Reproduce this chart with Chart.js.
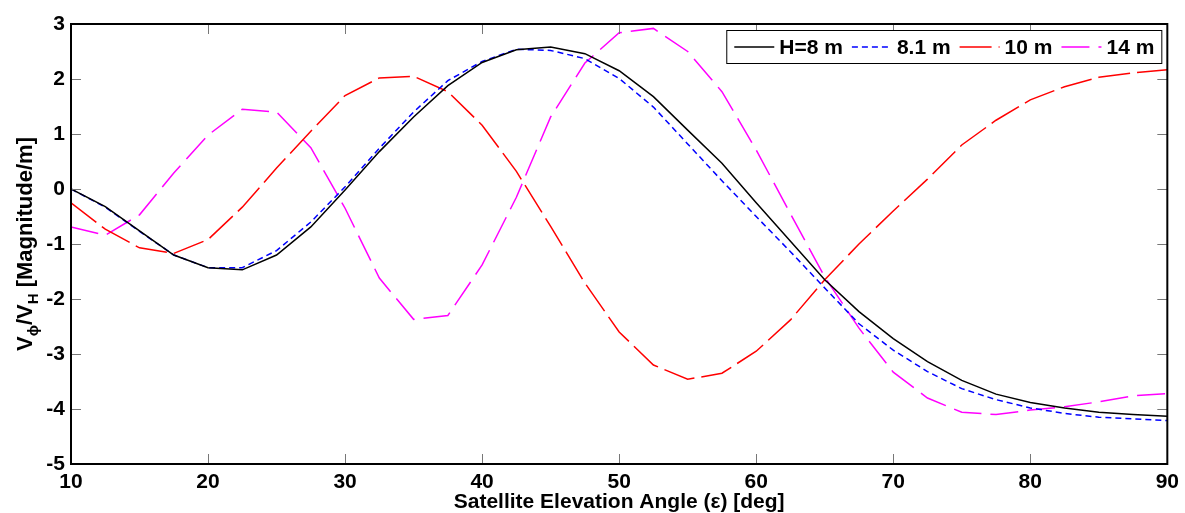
<!doctype html>
<html>

<head>
  <title>Vphi/VH vs satellite elevation angle</title>
  <script src="https://cdn.jsdelivr.net/npm/chart.js@4.4.0/dist/chart.umd.min.js"></script>
  <style>
    html, body {
      margin: 0;
      padding: 0;
      background: #fff;
    }
    .chart {
      width: 1185px;
      height: 513px;
    }
  </style>
</head>

<body>
  <div class="chart">
    <canvas id="myChart"></canvas>
  </div>

  <script>
    var FONT = "'Liberation Sans', Arial, sans-serif";

    // elevation angle (deg)
    var angles = [10, 12.5, 15, 17.5, 20, 22.5, 25, 27.5, 30, 32.5, 35, 37.5, 40, 42.5, 45, 47.5,
      50, 52.5, 55, 57.5, 60, 62.5, 65, 67.5, 70, 72.5, 75, 77.5, 80, 82.5, 85, 87.5, 90];

    var h8 = [0, -0.32, -0.76, -1.2, -1.43, -1.47, -1.2, -0.69, -0.02, 0.68, 1.31, 1.88, 2.3, 2.53, 2.58, 2.46,
      2.15, 1.68, 1.07, 0.47, -0.25, -0.95, -1.65, -2.23, -2.72, -3.14, -3.48, -3.73, -3.88, -3.98, -4.06, -4.1, -4.13];
    var h81 = [0, -0.33, -0.77, -1.2, -1.43, -1.43, -1.12, -0.6, 0.04, 0.74, 1.4, 1.97, 2.32, 2.54, 2.52, 2.37,
      2.01, 1.49, 0.82, 0.15, -0.5, -1.14, -1.8, -2.45, -2.93, -3.32, -3.63, -3.83, -3.98, -4.08, -4.15, -4.18, -4.21];
    var h10 = [-0.25, -0.73, -1.07, -1.17, -0.92, -0.33, 0.38, 1.05, 1.7, 2.02, 2.05, 1.77, 1.16, 0.32, -0.68, -1.71,
      -2.6, -3.2, -3.46, -3.35, -2.95, -2.38, -1.65, -1.0, -0.4, 0.18, 0.8, 1.25, 1.62, 1.86, 2.03, 2.11, 2.17];
    var h14 = [-0.69, -0.84, -0.47, 0.29, 0.98, 1.45, 1.4, 0.75, -0.35, -1.62, -2.37, -2.3, -1.38, -0.15, 1.31, 2.29,
      2.84, 2.92, 2.5, 1.77, 0.71, -0.45, -1.6, -2.53, -3.33, -3.8, -4.06, -4.1, -4.02, -3.96, -3.87, -3.76, -3.72];

    var seriesLabels = ['H=8 m', '8.1 m', '10 m', '14 m'];
    var seriesColors = ['#000000', '#0000ff', '#ff0000', '#ff00ff'];
    var seriesDash = [[], [6, 4], [32, 7], [28, 9]];

    var xLabel = 'Satellite Elevation Angle (\u03b5) [deg]';
    var yLabelParts = [
      {text: 'V', sub: false},
      {text: '\u03d5', sub: true},
      {text: '/V', sub: false},
      {text: 'H', sub: true},
      {text: ' [Magnitude/m]', sub: false}
    ];

    function pairs(ys) {
      return angles.map(function(a, i) { return {x: a, y: ys[i]}; });
    }

    // matlab style box with inward ticks on all four sides
    var boxPlugin = {
      id: 'box',
      afterDraw: function(chart) {
        var ctx = chart.ctx;
        var a = chart.chartArea;
        var xs = chart.scales.x;
        var ys = chart.scales.y;
        ctx.save();
        ctx.strokeStyle = '#777';
        ctx.lineWidth = 1;
        ctx.beginPath();
        xs.ticks.forEach(function(t) {
          var px = Math.round(xs.getPixelForValue(t.value)) + 0.5;
          ctx.moveTo(px, a.bottom);
          ctx.lineTo(px, a.bottom - 10);
          ctx.moveTo(px, a.top);
          ctx.lineTo(px, a.top + 10);
        });
        ys.ticks.forEach(function(t) {
          var py = Math.round(ys.getPixelForValue(t.value)) + 0.5;
          ctx.moveTo(a.left, py);
          ctx.lineTo(a.left + 10, py);
          ctx.moveTo(a.right, py);
          ctx.lineTo(a.right - 10, py);
        });
        ctx.stroke();
        ctx.strokeStyle = '#000';
        ctx.lineWidth = 2;
        ctx.strokeRect(a.left, a.top, a.width, a.height);

        // y title with subscripts
        ctx.translate(32, (a.top + a.bottom) / 2);
        ctx.rotate(-Math.PI / 2);
        ctx.fillStyle = '#000';
        ctx.textBaseline = 'alphabetic';
        var big = 'bold 22px ' + FONT;
        var small = 'bold 15px ' + FONT;
        var total = 0;
        yLabelParts.forEach(function(p) {
          ctx.font = p.sub ? small : big;
          p.w = ctx.measureText(p.text).width;
          total += p.w;
        });
        var x = -total / 2;
        yLabelParts.forEach(function(p) {
          ctx.font = p.sub ? small : big;
          ctx.fillText(p.text, x, p.sub ? 6 : 0);
          x += p.w;
        });
        ctx.restore();

        // legend box inside the top right corner
        var sets = chart.data.datasets;
        ctx.save();
        ctx.font = 'bold 21px ' + FONT;
        ctx.textBaseline = 'middle';
        var widths = sets.map(function(d) { return ctx.measureText(d.label).width; });
        var lineLen = 40;
        var inner = 0;
        widths.forEach(function(w, i) {
          inner += lineLen + 5 + w + (i < widths.length - 1 ? 9 : 0);
        });
        var boxW = inner + 16;
        var boxR = a.right - 5;
        var boxL = boxR - boxW;
        var boxT = a.top + 6;
        var boxH = 34;
        ctx.fillStyle = '#fff';
        ctx.fillRect(boxL, boxT, boxW, boxH);
        ctx.strokeStyle = '#000';
        ctx.lineWidth = 1;
        ctx.strokeRect(boxL + 0.5, boxT + 0.5, boxW - 1, boxH - 1);
        var cy = boxT + boxH / 2;
        var lx = boxL + 8;
        sets.forEach(function(d, i) {
          ctx.strokeStyle = d.borderColor;
          ctx.lineWidth = 1.5;
          ctx.setLineDash(d.borderDash || []);
          ctx.beginPath();
          ctx.moveTo(lx, cy);
          ctx.lineTo(lx + lineLen, cy);
          ctx.stroke();
          ctx.setLineDash([]);
          ctx.fillStyle = '#000';
          ctx.fillText(d.label, lx + lineLen + 5, cy + 1);
          lx += lineLen + 5 + widths[i] + 9;
        });
        ctx.restore();
      }
    };

    var datasets = [h8, h81, h10, h14].map(function(ys, i) {
      return {
        label: seriesLabels[i],
        data: pairs(ys),
        borderColor: seriesColors[i],
        backgroundColor: seriesColors[i],
        borderDash: seriesDash[i],
        borderWidth: 1.5,
        pointRadius: 0,
        tension: 0,
        fill: false
      };
    });

    var config = {
      type: 'line',
      data: {datasets: datasets},
      plugins: [boxPlugin],
      options: {
        responsive: true,
        maintainAspectRatio: false,
        animation: false,
        layout: {
          padding: {top: 24, right: 15, bottom: 0, left: 0}
        },
        scales: {
          x: {
            type: 'linear',
            min: 10,
            max: 90,
            grid: {display: false, drawTicks: false},
            border: {display: false},
            ticks: {
              stepSize: 10,
              padding: 6,
              color: '#000',
              font: {family: FONT, size: 21, weight: 'bold'},
              maxRotation: 0
            },
            title: {
              display: true,
              text: xLabel,
              color: '#000',
              padding: {top: 0, bottom: 0},
              font: {family: FONT, size: 21, weight: 'bold', lineHeight: 1}
            },
            afterFit: function(scale) { scale.height = 49; }
          },
          y: {
            min: -5,
            max: 3,
            grid: {display: false, drawTicks: false},
            border: {display: false},
            ticks: {
              stepSize: 1,
              padding: 6,
              color: '#000',
              font: {family: FONT, size: 21, weight: 'bold'}
            },
            afterFit: function(scale) { scale.width = 71; }
          }
        },
        plugins: {
          legend: {display: false},
          tooltip: {enabled: false}
        }
      }
    };

    window.onload = function() {
      var ctx = document.getElementById('myChart').getContext('2d');
      window.myChart = new Chart(ctx, config);
    };
  </script>
</body>

</html>
